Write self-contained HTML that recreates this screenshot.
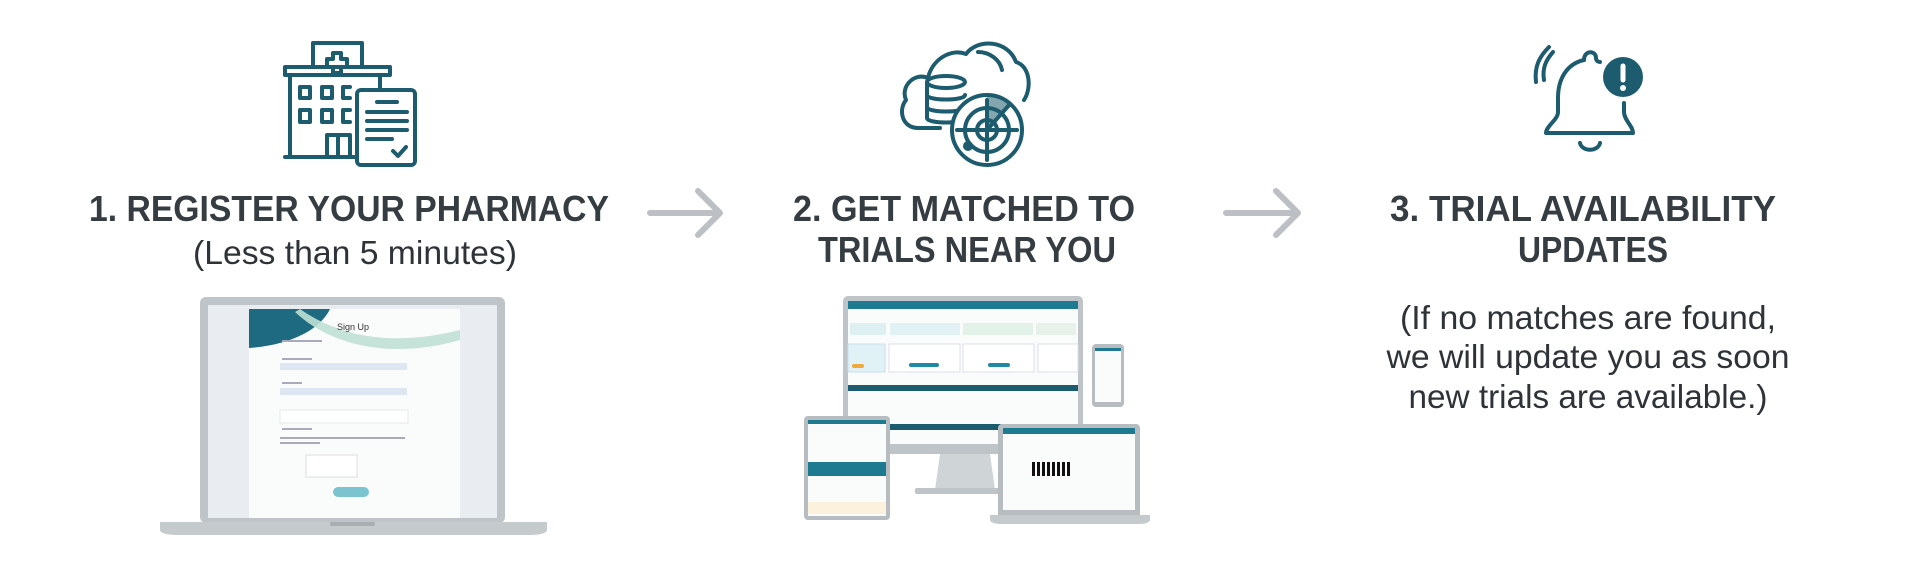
<!DOCTYPE html>
<html><head><meta charset="utf-8"><style>
html,body{margin:0;padding:0;background:#fff;}
svg{display:block;}
.t{font-family:"Liberation Sans",sans-serif;font-weight:bold;fill:#363d42;}
.r{font-family:"Liberation Sans",sans-serif;fill:#2e3338;}
.ic{fill:none;stroke:#1d5c6e;stroke-width:4;stroke-linecap:round;stroke-linejoin:round;}
</style></head><body>
<svg width="1920" height="565" viewBox="0 0 1920 565" xmlns="http://www.w3.org/2000/svg">
<rect width="1920" height="565" fill="#fff"/>

<!-- Hospital icon -->
<g class="ic">
<path d="M313 67 V43 H362 V67"/>
<path d="M285 67 H390 V75 H285 Z"/>
<path d="M333 53 H341 V59 H347 V67 H341 V73 H333 V67 H327 V59 H333 Z"/>
<path d="M290 75 V157 M285 157 H357 M380 75 V88"/>
<rect x="300" y="87" width="10" height="11"/><rect x="322" y="87" width="10" height="11"/><path d="M350 87 H343 V98 H350"/>
<rect x="300" y="110" width="10" height="12"/><rect x="322" y="110" width="10" height="12"/><path d="M350 110 H343 V122 H350"/>
<rect x="327" y="135" width="23" height="22"/><path d="M338 135 V157"/>
<rect x="357" y="90" width="58" height="75" rx="4"/>
<path d="M377 102 H397 M367 112 H407 M367 121 H407 M367 130 H407 M367 139 H392"/>
<path d="M393 151 L398 156 L406 147"/>
</g>

<!-- Cloud + radar icon -->
<g class="ic">
<path d="M940 128 H918 C902 128 898 110 906 100 C900 86 915 72 928 78 C932 60 950 48 966 54 C978 38 1008 40 1016 62 C1030 66 1032 88 1024 100"/>
<path d="M978 52 C990 52 1000 60 1002 70"/>
<ellipse cx="946" cy="82" rx="19" ry="6"/>
<path d="M927 82 V118 C927 124 965 124 965 118 M927 95 C927 101 965 101 965 95 M927 107 C927 113 965 113 965 107"/>
<circle cx="987" cy="130" r="35" fill="#fff"/>
<circle cx="987" cy="130" r="22"/>
<circle cx="987" cy="130" r="10"/>
<path d="M987 100 V160 M957 130 H1017"/>
<path d="M987 130 L1010 104" />
<path d="M987 95 A35 35 0 0 1 1012 105 L987 130 Z" fill="#1d5c6e" fill-opacity="0.55" stroke="none"/>
<circle cx="968" cy="146" r="3" fill="#1d5c6e"/>
</g>

<!-- Bell icon -->
<g class="ic">
<path d="M1584 60 C1584 50 1596 50 1596 58 C1596 62 1600 62 1600 62"/>
<path d="M1584 60 C1566 64 1558 80 1558 98 V112 C1558 120 1546 126 1546 133 H1633 C1633 126 1624 120 1624 112 V103"/>
<path d="M1580 143 C1582 152 1598 152 1600 143"/>
<path d="M1544 80 C1542 68 1546 60 1553 52 M1536 82 C1534 66 1540 56 1549 47"/>
<circle cx="1623" cy="77" r="20" fill="#1d5c6e" stroke="none"/>
<path d="M1623 66 V80" stroke="#fff" stroke-width="5"/>
<circle cx="1623" cy="88" r="3" fill="#fff" stroke="none"/>
</g>

<!-- Titles -->
<text class="t" x="349" y="221" font-size="36" text-anchor="middle" textLength="520" lengthAdjust="spacingAndGlyphs">1. REGISTER YOUR PHARMACY</text>
<text class="r" x="355" y="264" font-size="33" text-anchor="middle" textLength="324" lengthAdjust="spacingAndGlyphs">(Less than 5 minutes)</text>

<text class="t" x="964" y="221" font-size="36" text-anchor="middle" textLength="342" lengthAdjust="spacingAndGlyphs">2. GET MATCHED TO</text>
<text class="t" x="967" y="262" font-size="36" text-anchor="middle" textLength="298" lengthAdjust="spacingAndGlyphs">TRIALS NEAR YOU</text>

<text class="t" x="1583" y="221" font-size="36" text-anchor="middle" textLength="386" lengthAdjust="spacingAndGlyphs">3. TRIAL AVAILABILITY</text>
<text class="t" x="1593" y="262" font-size="36" text-anchor="middle" textLength="150" lengthAdjust="spacingAndGlyphs">UPDATES</text>

<text class="r" x="1588" y="329" font-size="33" text-anchor="middle" textLength="376" lengthAdjust="spacingAndGlyphs">(If no matches are found,</text>
<text class="r" x="1588" y="368" font-size="33" text-anchor="middle" textLength="403" lengthAdjust="spacingAndGlyphs">we will update you as soon</text>
<text class="r" x="1588" y="408" font-size="33" text-anchor="middle" textLength="359" lengthAdjust="spacingAndGlyphs">new trials are available.)</text>

<!-- Arrows -->
<g fill="none" stroke="#bcc0c4" stroke-width="6" stroke-linecap="round" stroke-linejoin="round">
<path d="M650 213 H718 M698 191 L720 213 L698 235"/>
<path d="M1226 213 H1296 M1276 191 L1298 213 L1276 235"/>
</g>

<!-- Laptop 1 -->
<rect x="200" y="297" width="305" height="226" rx="6" fill="#bfc4c8"/>
<rect x="208" y="305" width="289" height="213" fill="#e9ecf0"/>
<rect x="249" y="309" width="211" height="209" fill="#fafbfb"/>
<path d="M249 309 H330 C320 330 290 345 249 348 Z" fill="#1e6a80"/>
<path d="M300 309 C330 330 380 350 460 330 V340 C390 360 330 345 295 312 Z" fill="#bfe0d4" opacity="0.9"/>
<text x="337" y="330" font-family="Liberation Sans,sans-serif" font-size="9" fill="#333">Sign Up</text>
<rect x="280" y="363" width="127" height="7" fill="#dde6f2"/>
<rect x="280" y="388" width="127" height="7" fill="#dde6f2"/>
<rect x="280" y="410" width="128" height="13" fill="#fff" stroke="#e6e8ea"/>
<rect x="306" y="455" width="51" height="22" fill="#fff" stroke="#ddd"/>
<rect x="333" y="487" width="36" height="10" rx="5" fill="#7cc3d0"/>
<g fill="#aab" font-size="4"><rect x="282" y="340" width="40" height="2"/><rect x="282" y="358" width="30" height="2"/><rect x="282" y="382" width="20" height="2"/><rect x="282" y="428" width="30" height="2"/><rect x="280" y="437" width="125" height="2"/><rect x="280" y="442" width="40" height="2"/></g>
<path d="M160 522 H547 V530 C547 533 540 535 530 535 H177 C167 535 160 533 160 530 Z" fill="#c5cacd"/>
<rect x="330" y="522" width="45" height="4" rx="2" fill="#a9aeb2"/>

<!-- Monitor -->
<rect x="843" y="296" width="240" height="158" rx="5" fill="#bfc4c8"/>
<rect x="848" y="301" width="230" height="143" fill="#fafbfb"/>
<rect x="848" y="301" width="230" height="8" fill="#1e7a90"/>
<rect x="850" y="323" width="36" height="12" fill="#dff0f2"/><rect x="890" y="323" width="70" height="12" fill="#e2f2f4"/><rect x="963" y="323" width="70" height="12" fill="#e2f2e8"/><rect x="1036" y="323" width="40" height="12" fill="#e8f2ea"/>
<rect x="848" y="344" width="37" height="28" fill="#e0f2f6" stroke="#cde"/><rect x="889" y="344" width="71" height="28" fill="#fff" stroke="#dde"/><rect x="963" y="344" width="71" height="28" fill="#fff" stroke="#dde"/><rect x="1038" y="344" width="40" height="28" fill="#fff" stroke="#dde"/>
<rect x="852" y="364" width="12" height="4" rx="2" fill="#f2a93b"/><rect x="909" y="363" width="30" height="4" rx="2" fill="#1e8aa6"/><rect x="988" y="363" width="22" height="4" rx="2" fill="#1e8aa6"/>
<rect x="848" y="385" width="230" height="6" fill="#1d5c6e"/>
<rect x="848" y="424" width="230" height="6" fill="#1d5c6e"/>
<path d="M940 454 H990 L995 490 H935 Z" fill="#cfd4d7"/>
<rect x="915" y="488" width="95" height="6" rx="2" fill="#bfc4c8"/>
<!-- Tablet -->
<rect x="804" y="416" width="86" height="104" rx="4" fill="#b6bcc0"/>
<rect x="808" y="420" width="78" height="96" fill="#fafbfb"/>
<rect x="808" y="420" width="78" height="4" fill="#1e7a90"/>
<rect x="808" y="462" width="78" height="14" fill="#1e7a90"/>
<rect x="808" y="502" width="78" height="12" fill="#fbf1dc"/>
<!-- Phone -->
<rect x="1092" y="344" width="32" height="63" rx="4" fill="#b6bcc0"/>
<rect x="1095" y="348" width="26" height="54" fill="#fafbfb"/>
<rect x="1095" y="348" width="26" height="3" fill="#1e7a90"/>
<!-- Small laptop -->
<rect x="998" y="424" width="142" height="94" rx="4" fill="#b6bcc0"/>
<rect x="1003" y="428" width="132" height="82" fill="#fafbfb"/>
<rect x="1003" y="428" width="132" height="6" fill="#1e7a90"/>
<g fill="#111"><rect x="1032" y="462" width="3" height="14"/><rect x="1037" y="462" width="3" height="14"/><rect x="1042" y="462" width="3" height="14"/><rect x="1047" y="462" width="3" height="14"/><rect x="1052" y="462" width="3" height="14"/><rect x="1057" y="462" width="3" height="14"/><rect x="1062" y="462" width="3" height="14"/><rect x="1067" y="462" width="3" height="14"/></g>
<path d="M990 515 H1150 V520 C1150 522 1146 524 1140 524 H1000 C994 524 990 522 990 520 Z" fill="#c5cacd"/>
</svg>
</body></html>
